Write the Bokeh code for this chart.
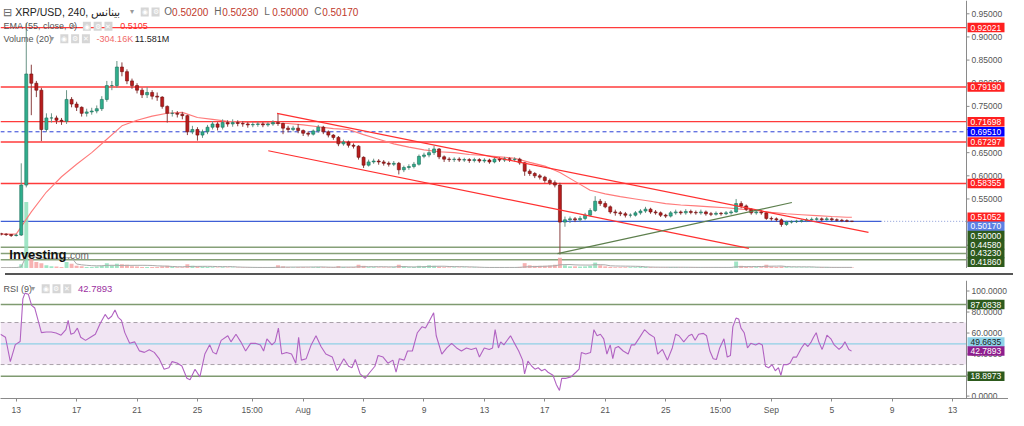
import numpy as np
import pandas as pd
from bokeh.plotting import figure
from bokeh.models import (Range1d, Span, Label, BoxAnnotation, FixedTicker,
                          ColumnDataSource, Div)
from bokeh.layouts import column
from bokeh.core.properties import value
from bokeh.embed import file_html
from bokeh.resources import INLINE

# ---------------- data (XRP/USD, 8h candles) ----------------
first_open = 0.475
closes = [0.474,0.473,0.471,0.472,0.580,0.820,0.800,0.785,0.700,0.725,
          0.725,0.720,0.718,0.765,0.755,0.748,0.735,0.738,0.740,0.745,
          0.765,0.795,0.795,0.835,0.825,0.805,0.795,0.785,0.775,0.780,
          0.772,0.770,0.750,0.735,0.735,0.733,0.730,0.695,0.700,0.688,
          0.695,0.705,0.712,0.705,0.715,0.712,0.715,0.713,0.712,0.710,
          0.711,0.712,0.710,0.712,0.715,0.713,0.703,0.700,0.703,0.698,
          0.692,0.690,0.697,0.705,0.695,0.688,0.683,0.669,0.673,0.666,
          0.664,0.640,0.623,0.630,0.632,0.630,0.627,0.625,0.627,0.613,
          0.618,0.620,0.625,0.642,0.645,0.650,0.658,0.641,0.636,0.635,
          0.636,0.634,0.635,0.633,0.635,0.632,0.634,0.630,0.636,0.634,
          0.637,0.635,0.636,0.628,0.610,0.605,0.600,0.597,0.590,0.585,
          0.580,0.500,0.505,0.507,0.505,0.508,0.515,0.525,0.545,0.540,
          0.533,0.522,0.520,0.518,0.515,0.515,0.520,0.524,0.528,0.522,
          0.520,0.515,0.513,0.520,0.522,0.520,0.523,0.521,0.520,0.522,
          0.518,0.517,0.519,0.518,0.520,0.522,0.540,0.535,0.528,0.520,
          0.522,0.520,0.508,0.507,0.505,0.495,0.500,0.501,0.502,0.503,
          0.505,0.506,0.507,0.505,0.507,0.505,0.504,0.503,0.502,0.5017]
highs = [0.477,0.476,0.474,0.475,0.627,0.930,0.840,0.805,0.790,0.735,
         0.735,0.730,0.725,0.785,0.770,0.760,0.750,0.745,0.747,0.752,
         0.772,0.805,0.805,0.848,0.845,0.830,0.810,0.800,0.790,0.792,
         0.785,0.780,0.772,0.752,0.742,0.740,0.738,0.732,0.708,0.705,
         0.700,0.710,0.718,0.716,0.722,0.720,0.722,0.720,0.718,0.716,
         0.716,0.717,0.716,0.716,0.720,0.734,0.715,0.708,0.708,0.712,
         0.700,0.696,0.700,0.710,0.708,0.698,0.690,0.686,0.678,0.676,
         0.670,0.666,0.642,0.635,0.637,0.636,0.634,0.631,0.632,0.630,
         0.622,0.625,0.630,0.646,0.650,0.660,0.665,0.660,0.644,0.640,
         0.640,0.640,0.639,0.638,0.639,0.638,0.638,0.637,0.640,0.640,
         0.641,0.640,0.640,0.639,0.630,0.614,0.608,0.604,0.600,0.594,
         0.590,0.585,0.512,0.512,0.511,0.513,0.520,0.530,0.556,0.550,
         0.545,0.536,0.527,0.524,0.522,0.519,0.524,0.528,0.533,0.531,
         0.526,0.523,0.518,0.524,0.527,0.525,0.528,0.527,0.525,0.527,
         0.525,0.522,0.523,0.522,0.524,0.526,0.550,0.545,0.538,0.530,
         0.526,0.526,0.522,0.512,0.510,0.508,0.503,0.504,0.505,0.506,
         0.509,0.510,0.511,0.510,0.511,0.510,0.508,0.507,0.506,0.5023]
lows = [0.471,0.470,0.468,0.469,0.470,0.575,0.731,0.770,0.675,0.695,
        0.715,0.712,0.710,0.712,0.748,0.740,0.728,0.728,0.732,0.735,
        0.740,0.760,0.785,0.790,0.815,0.798,0.788,0.778,0.768,0.768,
        0.765,0.762,0.745,0.715,0.728,0.726,0.722,0.688,0.690,0.676,
        0.682,0.690,0.700,0.698,0.700,0.706,0.706,0.707,0.706,0.704,
        0.705,0.706,0.705,0.706,0.708,0.708,0.690,0.694,0.696,0.692,
        0.686,0.685,0.687,0.693,0.690,0.683,0.678,0.664,0.665,0.661,
        0.659,0.635,0.617,0.620,0.626,0.624,0.622,0.620,0.621,0.603,
        0.608,0.613,0.616,0.622,0.638,0.640,0.645,0.636,0.630,0.630,
        0.630,0.630,0.630,0.628,0.629,0.628,0.628,0.626,0.627,0.630,
        0.630,0.630,0.631,0.624,0.600,0.600,0.595,0.592,0.585,0.580,
        0.575,0.430,0.490,0.498,0.500,0.500,0.504,0.512,0.522,0.535,
        0.530,0.518,0.514,0.513,0.510,0.510,0.512,0.516,0.520,0.518,
        0.516,0.511,0.509,0.510,0.516,0.516,0.516,0.517,0.516,0.516,
        0.514,0.513,0.514,0.514,0.515,0.516,0.520,0.530,0.524,0.516,
        0.516,0.516,0.505,0.503,0.501,0.490,0.492,0.497,0.498,0.499,
        0.500,0.502,0.503,0.502,0.503,0.502,0.501,0.500,0.500,0.5000]
volumes = [8,7,9,10,40,620,95,60,50,30,
           20,18,15,60,45,25,20,15,15,18,
           25,50,30,45,40,35,20,18,15,15,
           14,13,20,25,15,12,12,40,25,20,
           18,15,12,10,12,10,10,9,9,10,
           9,9,10,10,12,30,20,12,10,12,
           12,10,12,14,12,12,12,22,14,12,
           12,35,25,12,12,10,10,10,12,35,
           20,12,14,25,20,30,25,18,12,10,
           10,9,9,9,10,9,9,10,12,10,
           10,10,10,15,50,30,25,25,25,28,
           35,100,30,20,20,18,20,25,55,30,
           20,15,12,12,12,12,12,14,15,12,
           10,10,10,12,12,10,10,10,10,10,
           10,10,10,10,10,12,65,25,15,12,
           12,12,35,20,15,20,12,10,10,10,
           10,10,10,12,12,10,10,10,10,10]

# EMA(55) read daily (days from 13 Jul 2023)
ema_days = list(range(-1, 56)) + [55.33]
ema_vals = [0.474,0.474,0.522,0.565,0.598,0.625,0.650,0.679,0.708,0.720,0.729,0.735,0.737,
            0.726,0.722,0.718,0.716,0.715,0.714,0.713,0.710,0.706,0.702,0.700,0.689,0.679,
            0.669,0.662,0.656,0.652,0.650,0.646,0.644,0.641,0.638,0.629,0.621,0.607,0.588,
            0.569,0.561,0.555,0.550,0.545,0.540,0.537,0.535,0.533,0.531,0.528,0.525,0.521,
            0.518,0.516,0.514,0.512,0.5105,0.5105]

# RSI(9)
rsi_day = [-1.04,-0.71,-0.39,-0.06,0.26,0.44,0.58,0.80,1.02,1.23,1.45,1.67,1.99,2.32,2.64,2.97,3.29,3.44,3.62,3.83,
           4.05,4.27,4.59,4.92,5.24,5.56,5.89,6.10,6.32,6.54,6.75,6.97,7.19,7.51,7.84,8.16,8.49,8.81,9.14,9.46,
           9.79,10.11,10.32,10.65,10.97,11.30,11.51,11.84,12.16,12.49,12.81,13.03,13.25,13.57,
           14.01,14.22,14.55,14.87,15.19,15.52,15.84,16.17,16.38,16.60,16.93,17.14,17.36,17.58,17.90,18.23,18.51,18.70,18.88,19.20,
           19.53,19.85,20.18,20.50,20.93,21.25,21.69,22.01,22.23,22.45,22.77,23.10,23.42,23.75,23.96,24.29,24.61,24.94,25.15,25.37,
           25.69,25.91,26.23,26.56,26.88,27.10,27.32,27.64,27.81,28.18,28.51,28.83,
           29.16,29.48,29.81,30.13,30.45,30.67,30.99,31.32,31.54,31.71,31.93,32.08,32.29,32.51,32.73,32.94,33.27,33.53,33.66,33.88,
           34.14,34.35,34.56,34.79,35.00,35.21,35.54,35.76,35.97,36.12,36.41,36.73,37.06,37.27,37.42,37.71,38.03,38.25,38.46,38.68,
           38.90,39.11,39.33,39.50,39.66,39.87,40.19,40.52,40.73,40.95,41.28,41.60,41.93,42.25,42.47,42.79,43.12,43.44,43.66,
           43.88,44.20,44.53,44.74,44.95,45.18,45.50,45.71,45.93,46.15,46.36,46.58,46.86,47.08,47.29,47.45,47.66,47.84,47.99,48.20,
           48.42,48.64,48.96,49.18,49.40,49.61,49.82,50.05,50.26,50.47,50.63,50.80,51.02,51.23,51.45,51.67,51.99,52.21,52.42,52.64,
           52.79,52.97,53.14,53.36,53.51,53.68,53.94,54.16,54.48,54.69,54.87,55.13,55.31]
rsi_val = [58.9,56,32.8,49,52,92.5,98,97,86.4,83.8,72,60.4,61,61,60,58,63.2,72,58.8,60,
           64.7,56,53,56,58.8,69,77.7,73.4,76,82,75,72,60.4,50.2,51.6,43,41.6,44,41.6,35.7,
           25.6,27,32.8,31.5,28.6,16.9,15.5,25.6,18.3,40,48.8,41.6,40,53,
           57.4,51.6,58.8,51.6,42.9,50.2,50.2,48.7,42.9,54.5,48.7,51.6,64.7,40,41.5,40,31.3,55.9,34.2,35.6,
           48.7,57.4,47.2,40,37.1,24.1,35.6,28.4,27,34.8,21.2,16.9,22.7,28.4,38.6,37.1,31.3,34.2,22.7,35.6,
           34.2,42.9,42.9,60.3,66.1,64.7,70.5,79.2,57.4,40,45.8,50.2,
           45.8,42.9,45.8,44.4,45.8,37.1,45.8,44.4,45.8,63.2,45.8,51.6,48.7,53.1,57.4,51.6,42.9,34.2,21.2,33.3,
           28.4,25.6,27,24.1,25.6,22.7,19.8,11.1,5.3,16.9,16.9,18.3,22.7,25.6,41.5,40,41.5,63.2,57.4,58.8,
           54.5,40,48.7,35.6,45.8,47.2,42.9,40,48.7,48.7,55.9,63.2,58.8,55.9,40,44.4,34.2,45.8,58.8,
           57.4,51.6,57.4,58.8,53.1,58.8,59.7,57.4,42.9,35.6,34.8,45.8,54.5,37.1,38.6,66.1,74.2,73.3,64.7,60.3,
           45.8,50.2,48.7,50.2,48.7,28.4,27,29.9,24.1,27,19.8,29.9,29.9,31.3,37.1,37.1,45.8,50.2,47.2,51.6,
           55.9,60.3,51.6,44.4,50.2,58.0,54.5,48.7,44.4,47.2,51.6,44.4,42.79]

# drawn levels / lines (day, price)
red_levels = [0.92021, 0.79190, 0.71698, 0.67297, 0.58355]
blue_dashed_level = 0.69510
green_levels = [0.44580, 0.43230, 0.41860]
last_price = 0.50170
ema_last = 0.51052
green_label_level = 0.50000
support_end_day = 57.27
channel_upper = [(17.27, 0.7347), (56.43, 0.4777)]
channel_lower = [(16.69, 0.6541), (48.51, 0.4432)]
uptrend = [(35.84, 0.4318), (51.36, 0.5424)]
rsi_levels_green = [87.0838, 18.8973]
rsi_level_blue = 49.6635
rsi_last = 42.7893
price_ticks = [0.45, 0.50, 0.55, 0.60, 0.65, 0.70, 0.75, 0.80, 0.85, 0.90, 0.95]
rsi_ticks = [0, 20, 40, 60, 80, 100]

tick_days = [0, 4, 8, 12, 15.625, 19, 23, 27, 31, 35, 39, 43, 46.625, 50, 54, 58, 62]
tick_labels = ["13", "17", "21", "25", "15:00", "Aug", "5", "9", "13", "17", "21", "25",
               "15:00", "Sep", "5", "9", "13"]

# ---------------- layout constants ----------------
TW, MAINW, PH, RH = 1008, 966, 268, 118
X0, AX = -1.04, 62.92                  # visible time span of the chart area
DPP = (AX - X0) / MAINW               # days per pixel
X1 = X0 + TW * DPP                    # frame also holds the price-scale column
P_LO, P_HI = 0.3998, 0.9787
R_LO, R_HI = -2.3, 110.0
FONT = "Liberation Sans"

def sxp(xr):
    return xr * MAINW / 985.0

def syp(yr):
    return PH - yr * PH / 280.0

def syr(yr):
    return RH - (yr - 283) * RH / 129.0

def txt(fig, x, y, s, size="9px", color="#555", bold=False, bg=None):
    lab = Label(x=x, y=y, x_units="screen", y_units="screen", text=s, text_font=FONT,
                text_font_size=size, text_color=color, text_baseline="middle", text_align="left",
                text_font_style="bold" if bold else "normal")
    if bg is not None:
        lab.background_fill_color = bg
        lab.padding = 1
    fig.add_layout(lab)

def icons(fig, xs, y, syms):
    for x, s in zip(xs, syms):
        txt(fig, x, y, s, size="7px", color="white", bg="#d6d6d6")

def hline(fig, y, color, width=1.0, dash="solid", x0=X0, x1=AX):
    fig.segment(x0=[x0], y0=[y], x1=[x1], y1=[y], line_color=color, line_width=width,
                line_dash=dash)

def price_scale(fig, ticks, fmt):
    fig.add_layout(Span(location=AX, dimension="height", line_color="#8a8a8a", line_width=1))
    fig.segment(x0=[AX] * len(ticks), y0=ticks, x1=[AX + 3 * DPP] * len(ticks), y1=ticks,
                line_color="#8a8a8a", line_width=1)
    fig.text(x=[AX + 5 * DPP] * len(ticks), y=ticks, text=[fmt % t for t in ticks],
             text_font=value(FONT), text_font_size=value("8.5px"), text_color="#555",
             text_baseline="middle", text_align="left")

def boxes(fig, items, fmt, lo, hi, h):
    # items: (value, bg, fg, pixel offset used to stack the boxes like the reference)
    scale = (hi - lo) / h
    ys = [v + dy * scale for v, bg, fg, dy in items]
    fig.rect(x=[AX + 19.5 * DPP] * len(items), y=ys, width=37, height=9.5,
             width_units="screen", height_units="screen",
             fill_color=[it[1] for it in items], line_color=None)
    fig.text(x=[AX + 4 * DPP] * len(items), y=ys, text=[fmt % it[0] for it in items],
             text_color=[it[2] for it in items], text_font=value(FONT),
             text_font_size=value("8.5px"), text_baseline="middle", text_align="left")

# ---------------- data prep ----------------
times = pd.date_range("2023-07-12 00:00", periods=len(closes), freq="8h")
day = ((times - pd.Timestamp("2023-07-13")) / pd.Timedelta("1D")).to_numpy()
opens = [first_open] + closes[:-1]
up = [c >= o for o, c in zip(opens, closes)]
src = ColumnDataSource(dict(
    day=day, o=opens, h=highs, l=lows, c=closes,
    top=[max(o, c) for o, c in zip(opens, closes)],
    bot=[min(o, c) for o, c in zip(opens, closes)],
    fill=["#2fae8c" if u else "#b81d1d" for u in up],
    edge=["#1d6f5a" if u else "#6e0f0f" for u in up],
    wick=["#6a9486" if u else "#8a4040" for u in up],
    vol=volumes,
    vcol=["#8fe0bb" if u else "#f6a5a5" for u in up],
))
vol_ma = pd.Series(volumes, dtype=float).rolling(10, min_periods=1).mean().to_numpy()

x_range = Range1d(X0, X1)

# ---------------- price pane ----------------
p = figure(frame_width=TW, frame_height=PH, x_range=x_range, y_range=Range1d(P_LO, P_HI),
           toolbar_location=None, output_backend="svg", x_axis_location=None, y_axis_location=None,
           min_border_left=0, min_border_top=0, min_border_bottom=0, min_border_right=0)
p.grid.visible = False
p.outline_line_color = None
p.background_fill_color = "white"
p.extra_y_ranges = {"vol": Range1d(0, 2500)}

for lv in red_levels:
    hline(p, lv, "#ff3b3b", 1.4)
hline(p, blue_dashed_level, "#2b3fd6", 1, "4 3")
for lv in green_levels:
    hline(p, lv, "#86a078", 1.5)
hline(p, last_price, "#8a9bd8", 1, "1 2", x0=support_end_day)
hline(p, last_price, "#3f5fd6", 1.3, x1=support_end_day)

# volume
p.vbar(x="day", width=0.26, top="vol", bottom=0, y_range_name="vol", source=src,
       fill_color="vcol", line_color=None, fill_alpha=0.85)
p.line(day, vol_ma, y_range_name="vol", line_color="#aaaaaa", line_width=1)

# EMA
p.line(ema_days, ema_vals, line_color="#ff7b7b", line_width=1.1)

# candles
p.segment(x0="day", y0="h", x1="day", y1="l", source=src, line_color="wick", line_width=1)
p.vbar(x="day", width=0.2, top="top", bottom="bot", source=src, fill_color="fill",
       line_color="edge", line_width=0.6)

# trend lines
for seg, col in ((channel_upper, "#ff3030"), (channel_lower, "#ff3030"), (uptrend, "#5d7f4d")):
    p.segment(x0=[seg[0][0]], y0=[seg[0][1]], x1=[seg[1][0]], y1=[seg[1][1]],
              line_color=col, line_width=1.2)

# price scale + stacked value boxes
price_scale(p, price_ticks, "%.5f")
RED, GRN = "#ff2020", "#2d5a1d"
boxes(p, [(lv, RED, "white", 0) for lv in red_levels] + [
          (blue_dashed_level, "#0000ff", "white", 0),
          (ema_last, RED, "white", 0),
          (last_price, "#5b80e4", "white", -5),
          (green_label_level, GRN, "white", -13.5),
          (green_levels[0], GRN, "white", 2.5),
          (green_levels[1], GRN, "white", 0),
          (green_levels[2], GRN, "white", -2.5)],
      "%.5f", P_LO, P_HI, PH)

# header texts
y1, y2, y3 = syp(12), syp(27), syp(40)
txt(p, sxp(3), y1, "⊟", size="11px", color="#666")
txt(p, sxp(15), y1, "XRP/USD, 240, بينانس", size="10.5px", color="#222")
txt(p, sxp(132), y1, "▾", size="8px", color="#999")
icons(p, [sxp(143), sxp(154)], y1, ["◉", "⚙"])
for xr, letter, val in ((167, "O", "0.50200"), (218, "H", "0.50230"),
                        (269, "L", "0.50000"), (320, "C", "0.50170")):
    txt(p, sxp(xr), y1, letter, size="10px", color="#666")
    txt(p, sxp(xr + 8), y1, val, size="10px", color="#c0392b")

txt(p, sxp(3), y2, "EMA (55, close, 0)", size="9px", color="#555")
txt(p, sxp(72), y2, "▾", size="8px", color="#999")
icons(p, [sxp(84), sxp(95), sxp(106)], y2, ["◉", "⚙", "✕"])
txt(p, sxp(122), y2, "0.5105", size="9px", color="#ff2a2a")

txt(p, sxp(3), y3, "Volume (20)", size="9px", color="#555")
txt(p, sxp(50), y3, "▾", size="8px", color="#999")
icons(p, [sxp(61), sxp(72), sxp(83)], y3, ["◉", "⚙", "✕"])
txt(p, sxp(98), y3, "-304.16K", size="9px", color="#f06a6a")
txt(p, sxp(137), y3, "11.581M", size="9px", color="#222")

# watermark
txt(p, sxp(9), syp(265), "Investing", size="13px", color="#111", bold=True)
txt(p, sxp(68), syp(266), ".com", size="10px", color="#666")

# ---------------- RSI pane ----------------
r = figure(frame_width=TW, frame_height=RH, x_range=x_range, y_range=Range1d(R_LO, R_HI),
           toolbar_location=None, output_backend="svg", y_axis_location=None,
           min_border_left=0, min_border_top=0, min_border_bottom=0, min_border_right=0)
r.grid.visible = False
r.outline_line_color = None

r.add_layout(BoxAnnotation(left=X0, right=AX, bottom=30, top=70, fill_color="#f1e5f3",
                           fill_alpha=1, line_color=None, level="underlay"))
for lv in (30, 70):
    hline(r, lv, "#a8a0a8", 1, "4 3")
for lv in rsi_levels_green:
    hline(r, lv, "#7f9a70", 1.5)
hline(r, rsi_level_blue, "#8fd0e6", 1.2)
n = min(len(rsi_day), len(rsi_val))
r.line(rsi_day[:n], rsi_val[:n], line_color="#b163c2", line_width=1.1)

price_scale(r, rsi_ticks, "%.4f")
boxes(r, [(rsi_levels_green[0], GRN, "white", 0),
          (rsi_level_blue, "#8fd3e8", "#222", 2),
          (rsi_last, "#8e1e8e", "white", 0),
          (rsi_levels_green[1], GRN, "white", 0)],
      "%.4f", R_LO, R_HI, RH)

rx = r.xaxis[0]
rx.major_label_text_font_size = "8.5px"
rx.major_label_text_font = FONT
rx.major_label_text_color = "#555"
rx.axis_line_color = "#8a8a8a"
rx.major_tick_line_color = "#8a8a8a"
rx.major_tick_out = 3
rx.major_tick_in = 0
rx.minor_tick_line_color = None
rx.major_label_standoff = 3
rx.ticker = FixedTicker(ticks=tick_days)
rx.major_label_overrides = {k: v for k, v in zip(tick_days, tick_labels)}

yr1 = syr(292)
txt(r, sxp(3), yr1, "RSI (9)", size="9px", color="#555")
txt(r, sxp(31), yr1, "▾", size="8px", color="#999")
icons(r, [sxp(42), sxp(53), sxp(64)], yr1, ["◉", "⚙", "✕"])
txt(r, sxp(79), yr1, f"{rsi_last:.4f}", size="9.5px", color="#9b2fa0")

sep = Div(text="", width=TW, height=2, styles={"background-color": "#555"})
layout = column(p, sep, r, spacing=0)

open("out.html", "w").write(file_html(layout, INLINE))
